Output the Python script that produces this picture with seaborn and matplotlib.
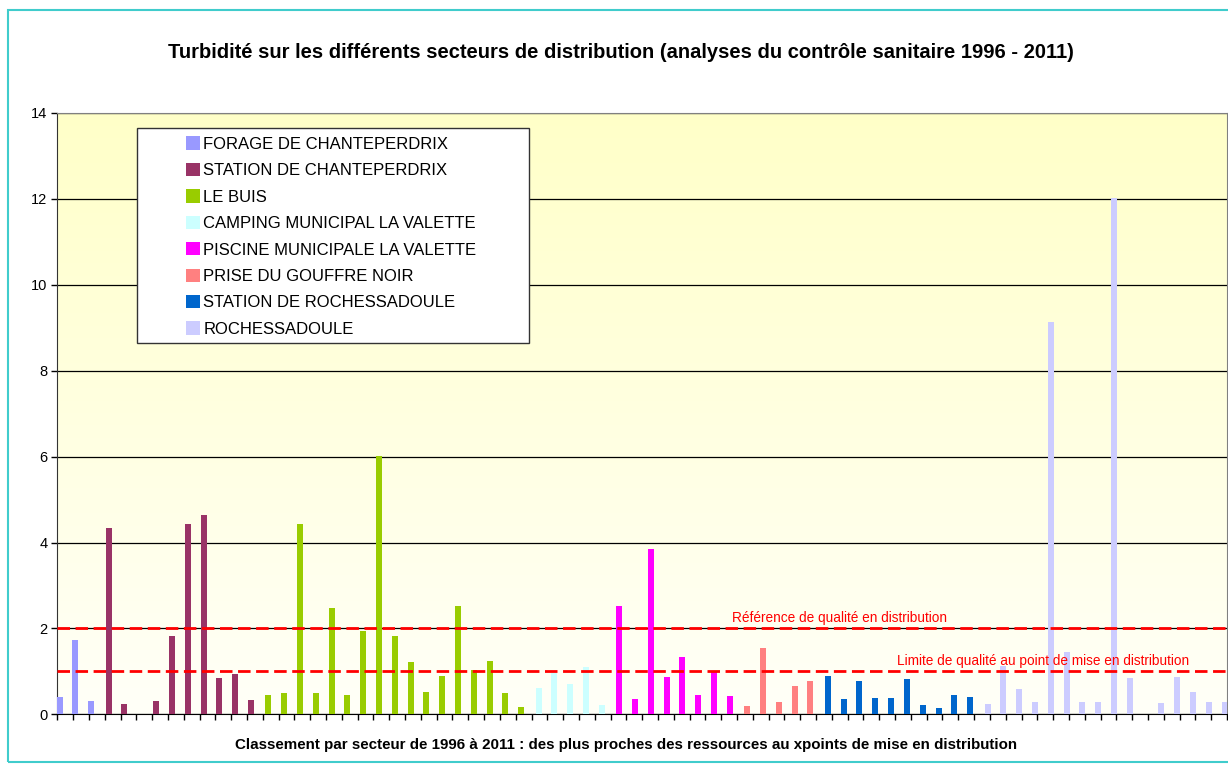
import numpy as np
import pandas as pd
import seaborn as sns
import matplotlib.pyplot as plt
from matplotlib.patches import Patch, Rectangle
from matplotlib.colors import LinearSegmentedColormap

# secteurs de distribution et couleurs de la légende
secteurs = ["FORAGE DE CHANTEPERDRIX", "STATION DE CHANTEPERDRIX", "LE BUIS",
            "CAMPING MUNICIPAL LA VALETTE", "PISCINE MUNICIPALE LA VALETTE",
            "PRISE DU GOUFFRE NOIR", "STATION DE ROCHESSADOULE", "ROCHESSADOULE"]
couleurs = ["#9999FF", "#993366", "#99CC00", "#CCFFFF",
            "#FF00FF", "#FF8080", "#0066CC", "#CCCCFF"]

# turbidité (NTU), une valeur par analyse (None = pas de valeur)
forage_chanteperdrix = [0.41, 1.73, 0.31]
station_chanteperdrix = [4.33, 0.25, None, 0.32, 1.83, 4.44, 4.64, 0.85, 0.94, 0.33]
le_buis = [0.46, 0.50, 4.44, 0.49, 2.48, 0.46, 1.93, 6.02, 1.83, 1.21,
           0.53, 0.90, 2.53, 1.03, 1.23, 0.50, 0.16]
camping_valette = [0.62, 0.97, 0.70, 1.11, 0.22]
piscine_valette = [2.53, 0.35, 3.84, 0.86, 1.34, 0.44, 1.01, 0.43]
gouffre_noir = [0.19, 1.54, 0.29, 0.66, 0.78]
station_rochessadoule = [0.90, 0.35, 0.78, 0.37, 0.39, 0.83, 0.21, 0.14, 0.46, 0.40]
rochessadoule = [0.24, 1.12, 0.58, 0.28, 9.14, 1.44, 0.28, 0.28, 12.03, 0.85,
                 None, 0.26, 0.88, 0.51, 0.28, 0.29]

series = [forage_chanteperdrix, station_chanteperdrix, le_buis, camping_valette,
          piscine_valette, gouffre_noir, station_rochessadoule, rochessadoule]

reference_qualite = 2.0
limite_qualite = 1.0

# tableau long : une ligne par analyse, position = rang dans le classement
rows = []
pos = 0
for nom, vals in zip(secteurs, series):
    for v in vals:
        if v is not None:
            rows.append({"pos": pos, "secteur": nom, "turbidite": v})
        pos += 1
df = pd.DataFrame(rows)
n_pos = pos

plt.rcParams['font.family'] = ['Liberation Sans', 'DejaVu Sans']

W, H = 1228, 769
fig = plt.figure(figsize=(W / 100, H / 100), dpi=100)
ax = fig.add_axes([57.3 / W, 1 - 714.3 / H, (1227 - 57.3) / W, (714.3 - 113) / H])

# fond dégradé jaune pâle de la zone de traçage
cmap_fond = LinearSegmentedColormap.from_list("fond", ["#FFFFF8", "#FFFFC8"])
ax.imshow(np.linspace(1, 0, 256).reshape(-1, 1), cmap=cmap_fond, aspect='auto',
          extent=[0, 1, 0, 1], transform=ax.transAxes, zorder=0)

sns.barplot(data=df, x="pos", y="turbidite", hue="secteur", hue_order=secteurs,
            palette=couleurs, order=list(range(n_pos)), dodge=True, width=0.8,
            saturation=1, errorbar=None, legend=False, linewidth=0, zorder=3, ax=ax)

# barres plus larges que la part de groupe (chevauchement comme sous Excel)
for bar in ax.patches:
    c = bar.get_x() + bar.get_width() / 2
    bar.set_width(0.38)
    bar.set_x(c - 0.19)

ax.axhline(reference_qualite, color='red', lw=2, ls=(0, (4.5, 2)), zorder=4)
ax.axhline(limite_qualite, color='red', lw=2, ls=(0, (4.5, 2)), zorder=4)
ax.text(42.2, 2.24, "Référence de qualité en distribution", color='red',
        fontsize=9.8, va='center', zorder=4)
ax.text(52.6, 1.24, "Limite de qualité au point de mise en distribution", color='red',
        fontsize=9.8, va='center', zorder=4)

ax.set_xlim(-0.5, n_pos - 0.5)
ax.set_ylim(0, 14)
ax.set_yticks(range(0, 15, 2))
ax.set_xticks(np.arange(n_pos + 1) - 0.5)
ax.set_xticklabels([])
ax.set_xlabel("")
ax.set_ylabel("")
ax.tick_params(axis='x', length=4, width=1, color='black')
ax.tick_params(axis='y', length=4, width=1, labelsize=10.5, pad=3)
ax.yaxis.grid(True, color='black', lw=0.9)
ax.set_axisbelow(True)
for side in ['top', 'right']:
    ax.spines[side].set_color('#808080')
ax.spines['left'].set_color('#333333')
ax.spines['bottom'].set_color('black')

# cadre de légende façon Excel
ax.add_patch(Rectangle((0.0681, 0.6175), 0.3352, 0.3576, transform=ax.transAxes,
                       facecolor='white', edgecolor='#333333', lw=1, zorder=5))
handles = [Patch(facecolor=c, edgecolor='none') for c in couleurs]
leg = ax.legend(handles, secteurs, loc='upper left', bbox_to_anchor=(0.110, 0.961),
                frameon=False, fontsize=12, handlelength=0.85, handleheight=0.85,
                handletextpad=0.2, labelspacing=0.66, borderpad=0, borderaxespad=0)
leg.set_zorder(6)

fig.text(0.506, 0.932, "Turbidité sur les différents secteurs de distribution "
         "(analyses du contrôle sanitaire 1996 - 2011)",
         ha='center', va='center', fontsize=14.5, fontweight='bold')
fig.text(0.510, 0.031, "Classement par secteur de 1996 à 2011 : des plus proches des "
         "ressources au xpoints de mise en distribution",
         ha='center', va='center', fontsize=10.9, fontweight='bold')

# bordure turquoise du graphique
fig.patches.append(Rectangle((8 / W, 1 - 762 / H), 2, (762 - 10) / H,
                             transform=fig.transFigure, fill=False,
                             edgecolor='#40CCCC', lw=1.5))

fig.savefig('out.png', dpi=100)
